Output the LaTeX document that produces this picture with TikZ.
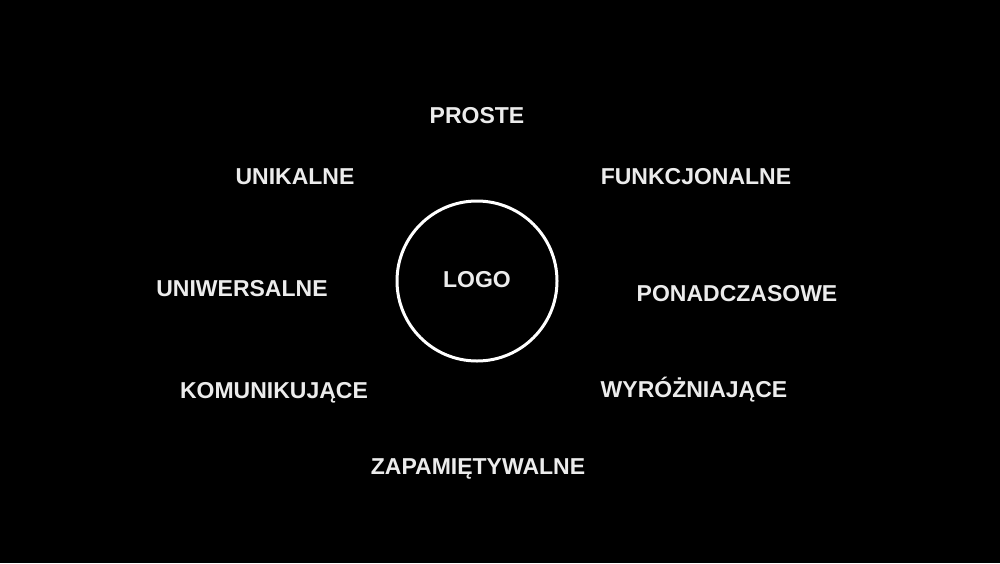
\documentclass[tikz,border=0pt]{standalone}
\usepackage{fontspec}
\setmainfont{Liberation Sans}
\definecolor{txt}{RGB}{236,236,236}
\begin{document}
\begin{tikzpicture}[x=1pt,y=-1pt,
  word/.style={text=txt,font=\fontsize{23}{26}\selectfont\bfseries,inner sep=0pt,anchor=center}]
\fill[black] (0,0) rectangle (1000,563);
\useasboundingbox (0,0) rectangle (1000,563);
\node[circle,draw=white,line width=3pt,minimum size=160pt,inner sep=0pt] (c) at (477,281) {};
\node[word] (logo) at (477,280) {LOGO};
\node[word] (proste) at (477,116) {PROSTE};
\node[word] (unik) at (295,177) {UNIKALNE};
\node[word] (funk) at (696,177) {FUNKCJONALNE};
\node[word] (uniw) at (242,289) {UNIWERSALNE};
\node[word] (pona) at (737,294) {PONADCZASOWE};
\node[word] (komu) at (274,393) {KOMUNIKUJĄCE};
\node[word] (wyro) at (694,390) {WYRÓŻNIAJĄCE};
\node[word] (zapa) at (478,469) {ZAPAMIĘTYWALNE};
\end{tikzpicture}
\end{document}
